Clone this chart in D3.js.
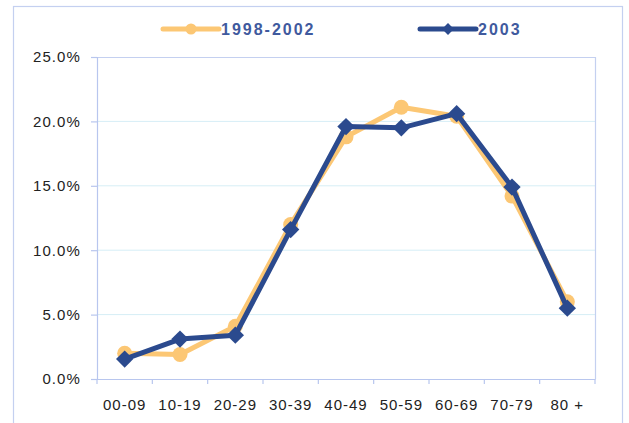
<!DOCTYPE html>
<html>
<head>
<meta charset="utf-8">
<script src="https://cdn.jsdelivr.net/npm/d3@7"></script>
<style>
  body { margin: 0; background: #fff; }
  svg { display: block; }
</style>
</head>
<body>
<svg id="chart"></svg>
<script>
// data (percent)
const ageGroups = ["00-09", "10-19", "20-29", "30-39", "40-49", "50-59", "60-69", "70-79", "80 +"];
const values19982002 = [2.0, 1.9, 4.1, 12.0, 18.8, 21.1, 20.4, 14.2, 6.0];
const values2003 = [1.55, 3.1, 3.4, 11.6, 19.6, 19.5, 20.6, 14.9, 5.5];
const yTicks = [0, 5, 10, 15, 20, 25];

var width = 629, height = 423;
var margin = {top: 57, right: 34, bottom: 44, left: 97};

const svg = d3.select("#chart")
  .attr("width", width)
  .attr("height", height);

// outer frame
svg.append("rect")
  .attr("x", 13.5).attr("y", 6.5)
  .attr("width", 609).attr("height", 430)
  .attr("fill", "none")
  .attr("stroke", "#c4d0f0")
  .attr("stroke-width", 1.2);

const xScale = d3.scaleBand()
  .domain(ageGroups)
  .range([margin.left, width - margin.right]);

const yScale = d3.scaleLinear()
  .domain([0, 25])
  .range([height - margin.bottom, margin.top]);

// horizontal grid lines
svg.append("g")
  .selectAll("line")
  .data(yTicks.slice(1, -1))
  .enter()
  .append("line")
  .attr("x1", margin.left).attr("x2", width - margin.right)
  .attr("y1", d => yScale(d)).attr("y2", d => yScale(d))
  .attr("stroke", "#d6eef6")
  .attr("stroke-width", 1);

// plot area frame (top/right)
svg.append("path")
  .attr("d", "M" + margin.left + "," + (margin.top + 0.5) + "H" + (width - margin.right + 0.5) + "V" + (height - margin.bottom))
  .attr("fill", "none")
  .attr("stroke", "#c4d0f0")
  .attr("stroke-width", 1.2);

// x axis
const xAxis = svg.append("g")
  .attr("transform", "translate(0," + yScale(0) + ")")
  .call(d3.axisBottom(xScale).tickSize(0).tickPadding(20).tickSizeOuter(0));
xAxis.select(".domain").attr("stroke", "#b8c6ee").attr("stroke-width", 1.2);
xAxis.selectAll("text")
  .attr("font-family", "Liberation Sans, Arial, sans-serif")
  .attr("font-size", 15)
  .attr("letter-spacing", 1)
  .attr("fill", "#222");
// category separators
svg.append("g")
  .selectAll("line")
  .data(ageGroups.concat(["end"]))
  .enter()
  .append("line")
  .attr("x1", (d, i) => margin.left + i * xScale.step())
  .attr("x2", (d, i) => margin.left + i * xScale.step())
  .attr("y1", yScale(0)).attr("y2", yScale(0) + 5)
  .attr("stroke", "#b8c6ee")
  .attr("stroke-width", 1.2);

// y axis
const yAxis = svg.append("g")
  .attr("transform", "translate(" + margin.left + ",0)")
  .call(d3.axisLeft(yScale).tickValues(yTicks).tickSize(6).tickPadding(10)
        .tickFormat(d => d.toFixed(1) + "%"));
yAxis.select(".domain").attr("stroke", "#b8c6ee").attr("stroke-width", 1.2);
yAxis.selectAll(".tick line").attr("stroke", "#b8c6ee").attr("stroke-width", 1.2);
yAxis.selectAll("text")
  .attr("font-family", "Liberation Sans, Arial, sans-serif")
  .attr("font-size", 15)
  .attr("letter-spacing", 1.1)
  .attr("fill", "#222");

const cx = d => xScale(d) + xScale.bandwidth() / 2;

const line = d3.line()
  .x(d => cx(d.cat))
  .y(d => yScale(d.v));

const orangeData = ageGroups.map((c, i) => ({cat: c, v: values19982002[i]}));
const blueData = ageGroups.map((c, i) => ({cat: c, v: values2003[i]}));

const orange = "#fcc774";
const blue = "#2b4a8e";

// 1998-2002
svg.append("path")
  .datum(orangeData)
  .attr("d", line)
  .attr("fill", "none")
  .attr("stroke", orange)
  .attr("stroke-width", 5)
  .attr("stroke-linejoin", "round");
svg.selectAll("circle.s1")
  .data(orangeData)
  .enter()
  .append("circle")
  .attr("class", "s1")
  .attr("cx", d => cx(d.cat))
  .attr("cy", d => yScale(d.v))
  .attr("r", 7.5)
  .attr("fill", orange);

// 2003
svg.append("path")
  .datum(blueData)
  .attr("d", line)
  .attr("fill", "none")
  .attr("stroke", blue)
  .attr("stroke-width", 5)
  .attr("stroke-linejoin", "round");
svg.selectAll("path.s2")
  .data(blueData)
  .enter()
  .append("path")
  .attr("class", "s2")
  .attr("d", d3.symbol().type(d3.symbolSquare).size(150))
  .attr("transform", d => "translate(" + cx(d.cat) + "," + yScale(d.v) + ") rotate(45)")
  .attr("fill", blue);

// legend
const legend = [
  {name: "1998-2002", color: orange, x: 163, shape: "circle"},
  {name: "2003", color: blue, x: 420, shape: "diamond"}
];
legend.forEach(l => {
  const g = svg.append("g").attr("transform", "translate(" + l.x + ",29)");
  g.append("line")
    .attr("x1", 0).attr("x2", 56)
    .attr("stroke", l.color)
    .attr("stroke-width", 5)
    .attr("stroke-linecap", "round");
  if (l.shape == "circle") {
    g.append("circle").attr("cx", 28).attr("r", 5.5).attr("fill", l.color);
  } else {
    g.append("path")
      .attr("d", d3.symbol().type(d3.symbolSquare).size(70))
      .attr("transform", "translate(28,0) rotate(45)")
      .attr("fill", l.color);
  }
  g.append("text")
    .attr("x", 58).attr("y", 6)
    .attr("font-family", "Liberation Sans, Arial, sans-serif")
    .attr("font-weight", "bold")
    .attr("font-size", 16)
    .attr("letter-spacing", 2)
    .attr("fill", "#3f5a9e")
    .text(l.name);
});
</script>
</body>
</html>
